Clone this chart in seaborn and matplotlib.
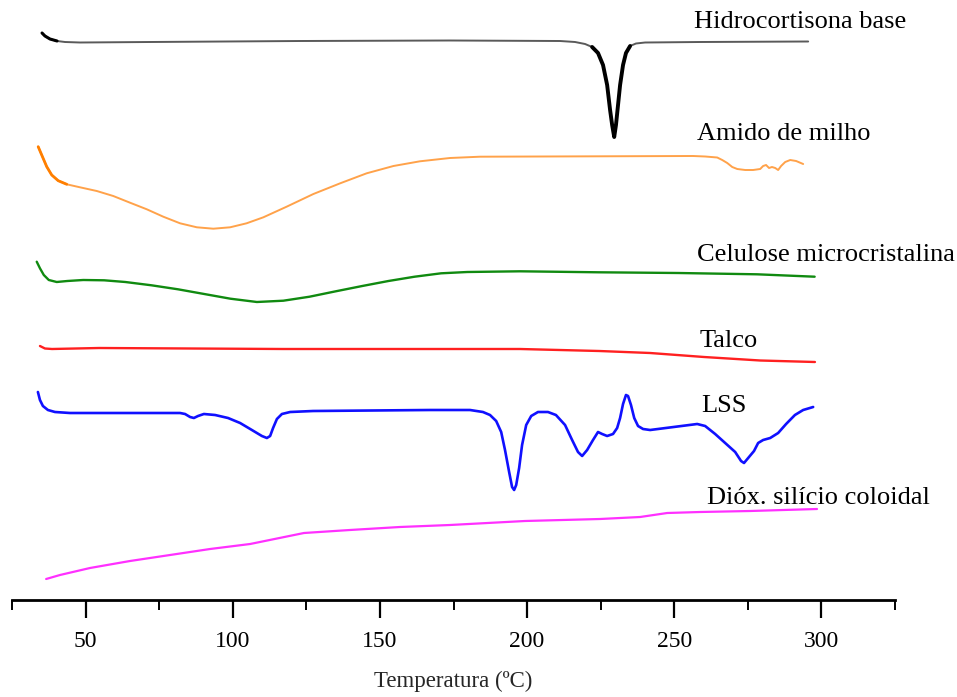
import matplotlib
matplotlib.use("Agg")
import matplotlib.pyplot as plt
from matplotlib.ticker import MultipleLocator
import seaborn as sns
import pandas as pd

# ---- data (temperature in °C, signal in arbitrary offset units) ----
hidro_T = [35.2, 36.2, 37.9, 40.3, 43.0, 48.1, 71.9, 122.9, 173.8, 211.2, 216.3, 219.7, 222.1,
           224.1, 225.8, 227.2, 228.2, 228.9, 229.6, 230.2, 230.9, 231.6, 232.6, 233.6,
           235.0, 237.0, 240.1, 258.8, 295.5]
hidro_y = [56.7, 56.4, 56.1, 55.9, 55.8, 55.75, 55.8, 55.9, 55.95, 55.9, 55.8, 55.6, 55.3,
           54.7, 53.5, 51.5, 49.0, 47.5, 46.3, 47.5, 49.5, 51.5, 53.5, 54.7,
           55.4, 55.65, 55.75, 55.8, 55.85]

amido_T = [33.9, 35.1, 36.8, 38.5, 40.7, 43.6, 48.1, 53.8, 59.4, 65.1, 70.8, 76.4, 82.1, 87.8,
           93.4, 99.1, 104.7, 110.4, 118.3, 127.4, 136.5, 145.5, 154.6, 163.6, 173.8, 184.0,
           256.4, 260.5, 264.6, 266.3, 268.0, 269.7, 271.4, 274.1, 276.8, 279.2, 280.2, 281.2,
           282.2, 283.2, 284.3, 285.3, 286.3, 287.7, 289.4, 291.4, 293.8]
amido_y = [45.33, 44.5, 43.33, 42.5, 41.93, 41.57, 41.27, 40.9, 40.4, 39.73, 39.07, 38.33, 37.67,
           37.27, 37.13, 37.27, 37.67, 38.27, 39.33, 40.6, 41.67, 42.67, 43.4, 43.87, 44.2, 44.33,
           44.4, 44.35, 44.25, 44.0, 43.7, 43.3, 43.1, 43.0, 43.0, 43.1, 43.4, 43.5,
           43.2, 43.3, 43.2, 43.0, 43.4, 43.8, 44.0, 43.9, 43.6]

celul_T = [33.4, 34.5, 35.8, 37.5, 40.2, 43.8, 49.2, 56.3, 63.5, 72.4, 81.4, 90.3, 99.2, 108.2,
           117.2, 126.1, 135.0, 144.0, 152.9, 161.8, 170.8, 179.7, 197.6, 224.5, 251.3, 278.1, 297.7]
celul_y = [33.83, 33.17, 32.5, 32.0, 31.8, 31.9, 32.0, 31.97, 31.8, 31.47, 31.07, 30.6, 30.13, 29.8,
           29.93, 30.33, 30.87, 31.4, 31.9, 32.33, 32.67, 32.8, 32.87, 32.77, 32.7, 32.57, 32.33]

talco_T = [34.5, 36.2, 38.6, 54.6, 117.1, 197.6, 224.5, 241.8, 260.1, 279.2, 297.8]
talco_y = [25.4, 25.15, 25.1, 25.2, 25.1, 25.1, 24.9, 24.7, 24.3, 23.95, 23.8]

lss_T = [33.8, 34.5, 35.5, 37.2, 39.6, 44.7, 82.1, 83.8, 85.5, 86.8, 88.2, 90.2, 94.0, 98.4,
         102.5, 106.5, 109.9, 111.6, 112.7, 113.7, 115.0, 116.7, 119.5, 127.3, 167.0, 180.6,
         185.0, 187.4, 189.5, 191.2, 192.5, 193.9, 194.9, 195.6, 196.3, 197.3, 198.3, 199.7,
         201.4, 203.7, 207.1, 209.8, 212.9, 215.3, 217.3, 218.7, 220.4, 222.4, 224.1, 225.5,
         227.2, 229.2, 230.6, 231.6, 232.6, 233.6, 234.3, 235.3, 236.4, 237.7, 239.4, 241.8,
         257.8, 260.5, 263.9, 267.3, 270.7, 272.7, 273.7, 275.4, 277.1, 278.5, 280.2, 282.6,
         285.3, 288.0, 291.0, 293.8, 297.2]
lss_y = [20.8, 20.0, 19.4, 19.0, 18.8, 18.7, 18.7, 18.6, 18.3, 18.2, 18.4, 18.6, 18.5, 18.2,
         17.7, 17.0, 16.4, 16.2, 16.4, 17.2, 18.1, 18.6, 18.8, 18.9, 19.0, 19.0,
         18.8, 18.5, 17.9, 16.8, 15.0, 12.8, 11.3, 11.0, 11.5, 13.2, 15.5, 17.5,
         18.4, 18.8, 18.8, 18.5, 17.5, 16.0, 14.8, 14.4, 15.0, 16.0, 16.8, 16.6,
         16.4, 16.6, 17.2, 18.2, 19.6, 20.5, 20.4, 19.5, 18.2, 17.4, 17.1, 17.0,
         17.6, 17.4, 16.6, 15.7, 14.8, 13.9, 13.7, 14.3, 14.9, 15.7, 16.0, 16.2,
         16.7, 17.6, 18.5, 19.0, 19.3]

silic_T = [36.6, 41.3, 51.5, 65.1, 78.7, 92.3, 105.9, 124.2, 139.8, 156.8, 173.8, 199.3,
           224.8, 238.4, 247.6, 258.8, 275.8, 298.5]
silic_y = [2.1, 2.5, 3.2, 3.9, 4.5, 5.1, 5.6, 6.7, 7.0, 7.3, 7.5, 7.9,
           8.1, 8.3, 8.7, 8.8, 8.9, 9.1]

names = ["Hidrocortisona base", "Amido de milho", "Celulose microcristalina",
         "Talco", "LSS", "Dióx. silício coloidal"]
label_T = [256.7, 257.6, 257.6, 258.6, 259.0, 261.0]
label_y = [57.8, 46.6, 34.5, 25.9, 19.4, 10.2]

xticks = [50, 100, 150, 200, 250, 300]
xlabel = "Temperatura (ºC)"

# ---- plotting ----
sns.set_theme(style="white")
plt.rcParams["font.family"] = ["Liberation Serif", "DejaVu Serif"]

fig = plt.figure(figsize=(9.57, 6.97), dpi=100)
ax = fig.add_axes([12 / 957, 97 / 697, 883 / 957, 600 / 697])

series = [
    (hidro_T, hidro_y, "#5a5a5a", 1.4),
    (amido_T, amido_y, "#ffa24a", 1.4),
    (celul_T, celul_y, "#108a10", 1.7),
    (talco_T, talco_y, "#ff2020", 1.7),
    (lss_T, lss_y, "#1010ff", 1.9),
    (silic_T, silic_y, "#ff30ff", 1.6),
]
for T, y, c, lw in series:
    df = pd.DataFrame({"T": T, "y": y})
    sns.lineplot(data=df, x="T", y="y", ax=ax, color=c, linewidth=lw, sort=False,
                 estimator=None)

# darker segments as in the original trace
peak = pd.DataFrame({"T": hidro_T[12:25], "y": hidro_y[12:25]})
sns.lineplot(data=peak, x="T", y="y", ax=ax, color="black", linewidth=2.8, sort=False,
             estimator=None)
start = pd.DataFrame({"T": hidro_T[0:4], "y": hidro_y[0:4]})
sns.lineplot(data=start, x="T", y="y", ax=ax, color="black", linewidth=2.2, sort=False,
             estimator=None)
a_start = pd.DataFrame({"T": amido_T[0:6], "y": amido_y[0:6]})
sns.lineplot(data=a_start, x="T", y="y", ax=ax, color="#ff7f00", linewidth=2.0, sort=False,
             estimator=None)

for name, tx, ty in zip(names, label_T, label_y):
    ax.text(tx, ty, name, fontsize=19, ha="left", va="center", color="black")

ax.set_xlim(25, 325)
ax.set_ylim(0, 60)
ax.set_xticks(xticks)
ax.xaxis.set_minor_locator(MultipleLocator(25))
ax.set_yticks([])
ax.set_ylabel("")
ax.set_xlabel(xlabel, fontsize=16.5, labelpad=14)
for s in ["top", "left", "right"]:
    ax.spines[s].set_visible(False)
ax.spines["bottom"].set_linewidth(2)
ax.spines["bottom"].set_color("black")
ax.tick_params(axis="x", which="major", direction="out", length=13, width=1.6,
               colors="black", labelsize=17, pad=9, bottom=True)
ax.tick_params(axis="x", which="minor", direction="out", length=7, width=1.4,
               colors="black", bottom=True)
ax.patch.set_alpha(0)

fig.savefig("out.png", dpi=100)
